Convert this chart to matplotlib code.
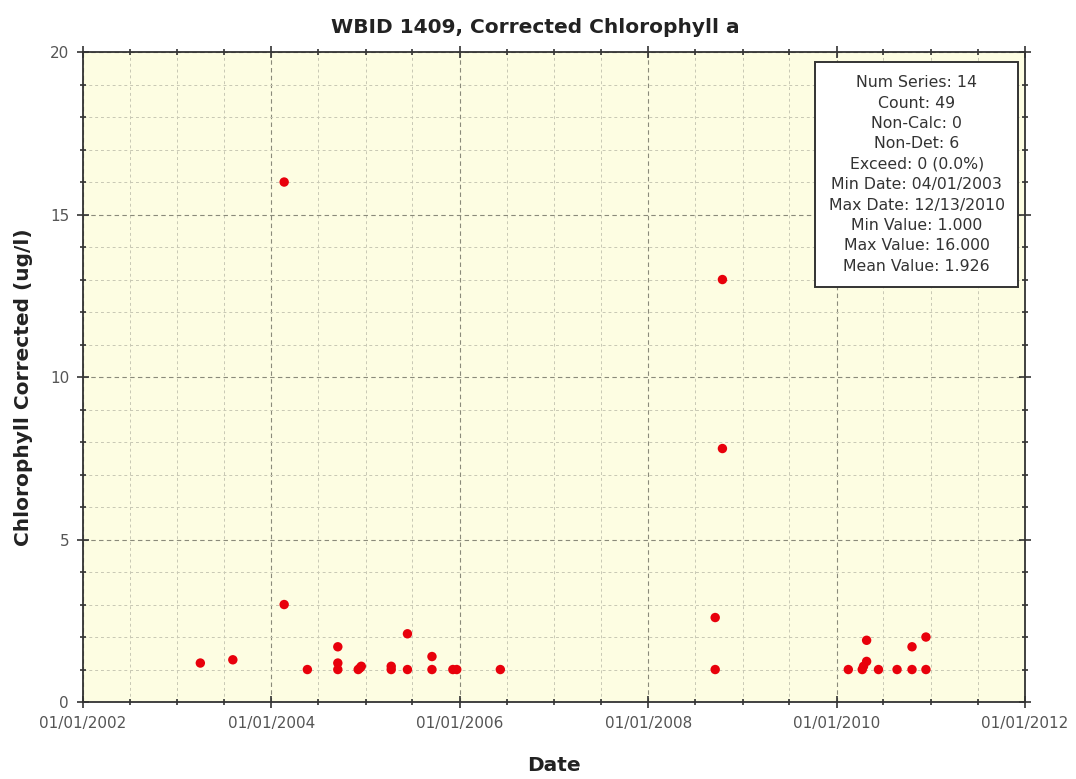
import matplotlib
matplotlib.use("Agg")
import matplotlib.pyplot as plt
import matplotlib.dates as mdates
from matplotlib.ticker import MultipleLocator
from matplotlib.patches import Rectangle
import pandas as pd

# sample dates and corrected chlorophyll values (ug/l)
DATES = [
    "2003-04-01", "2003-08-05", "2004-02-20", "2004-02-20", "2004-05-20",
    "2004-09-15", "2004-09-15", "2004-09-15", "2004-12-03", "2004-12-10",
    "2004-12-15", "2005-04-10", "2005-04-10", "2005-06-12", "2005-06-12",
    "2005-09-15", "2005-09-15", "2005-12-05", "2005-12-20", "2006-06-07",
    "2008-09-17", "2008-09-17", "2008-10-15", "2008-10-15", "2010-02-15",
    "2010-04-10", "2010-04-15", "2010-04-27", "2010-04-27", "2010-06-12",
    "2010-08-23", "2010-10-20", "2010-10-20", "2010-12-13", "2010-12-13",
]
VALUES = [
    1.2, 1.3, 16.0, 3.0, 1.0,
    1.7, 1.2, 1.0, 1.0, 1.05,
    1.1, 1.0, 1.1, 2.1, 1.0,
    1.4, 1.0, 1.0, 1.0, 1.0,
    2.6, 1.0, 13.0, 7.8, 1.0,
    1.0, 1.1, 1.25, 1.9, 1.0,
    1.0, 1.0, 1.7, 2.0, 1.0,
]

STATS = [
    "Num Series: 14",
    "Count: 49",
    "Non-Calc: 0",
    "Non-Det: 6",
    "Exceed: 0 (0.0%)",
    "Min Date: 04/01/2003",
    "Max Date: 12/13/2010",
    "Min Value: 1.000",
    "Max Value: 16.000",
    "Mean Value: 1.926",
]

TITLE = "WBID 1409, Corrected Chlorophyll a"
XLABEL = "Date"
YLABEL = "Chlorophyll Corrected (ug/l)"

dates = pd.to_datetime(DATES)

fig = plt.figure(figsize=(10.76, 7.79), dpi=100)
ax = fig.add_axes([0.0771, 0.0988, 0.8755, 0.8344])
ax.set_facecolor("#fdfde2")

ax.scatter(dates, VALUES, s=46, color="#e8000b", edgecolors="none", zorder=3)

ax.set_xlim(pd.Timestamp("2002-01-01"), pd.Timestamp("2012-01-01"))
ax.set_ylim(0, 20)

ax.xaxis.set_major_locator(mdates.YearLocator(2))
ax.xaxis.set_minor_locator(mdates.MonthLocator(bymonth=[1, 7]))
ax.xaxis.set_major_formatter(mdates.DateFormatter("%m/%d/%Y"))
ax.yaxis.set_major_locator(MultipleLocator(5))
ax.yaxis.set_minor_locator(MultipleLocator(1))

ax.grid(which="major", color="#8a8a7a", linestyle=(0, (4, 3)), linewidth=0.8)
ax.grid(which="minor", color="#c8c8b4", linestyle=(0, (3, 3)), linewidth=0.7)
ax.set_axisbelow(True)

for sp in ax.spines.values():
    sp.set_color("#333333")
    sp.set_linewidth(1.3)

ax.tick_params(which="both", direction="inout", color="#333333",
               top=True, right=True, width=1.2)
ax.tick_params(which="major", length=8)
ax.tick_params(which="minor", length=5)
ax.tick_params(axis="both", labelsize=11, labelcolor="#555555", pad=6)

ax.set_title(TITLE, fontsize=14.5, fontweight="bold", color="#222222", pad=14)
ax.title.set_x(0.48)
ax.set_xlabel(XLABEL, fontsize=14.5, fontweight="bold", color="#222222", labelpad=18)
ax.set_ylabel(YLABEL, fontsize=14.5, fontweight="bold", color="#222222", labelpad=12)
ax.yaxis.label.set_y(0.485)

# statistics box
ax.add_patch(Rectangle((0.777, 0.638), 0.2156, 0.3466, transform=ax.transAxes,
                       facecolor="white", edgecolor="#333333", lw=1.4, zorder=5))
ax.text(0.885, 0.8115, "\n".join(STATS), transform=ax.transAxes,
        ha="center", va="center", fontsize=11.3, color="#333333",
        linespacing=1.45, zorder=6)

fig.savefig("out.png", dpi=100, facecolor="white")
